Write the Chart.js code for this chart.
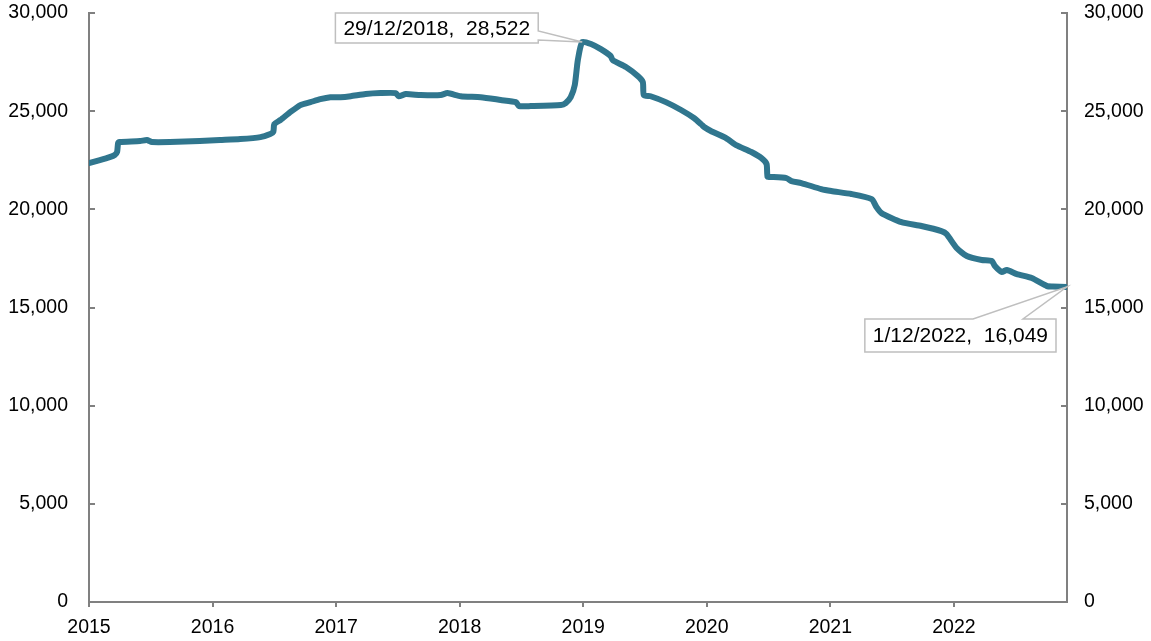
<!DOCTYPE html>
<html>
<head>
<meta charset="utf-8">
<script src="https://cdn.jsdelivr.net/npm/chart.js@4/dist/chart.umd.min.js"></script>
<style>
  html, body { margin: 0; padding: 0; background: #fff; }
  #wrap { width: 1151px; height: 641px; position: relative; }
</style>
</head>
<body>
<div id="wrap"><canvas id="chart"></canvas></div>
<script>
// dates and values
const dates = [
  '2015-01-01','2015-02-02','2015-03-03','2015-03-18','2015-03-25','2015-03-28','2015-04-02',
  '2015-06-01','2015-06-21','2015-07-06','2015-08-28','2015-11-24','2016-01-23','2016-03-23',
  '2016-05-22','2016-06-20','2016-06-29','2016-07-02','2016-07-20','2016-08-19','2016-09-17',
  '2016-10-17','2016-11-15','2016-12-15','2017-01-14','2017-02-13','2017-03-29','2017-05-12',
  '2017-06-26','2017-07-05','2017-07-26','2017-09-08','2017-11-06','2017-11-26','2018-01-04',
  '2018-03-04','2018-05-02','2018-06-16','2018-06-25','2018-07-30','2018-10-27','2018-11-10',
  '2018-11-25','2018-12-07','2018-12-16','2018-12-29','2019-01-24','2019-02-22','2019-03-23',
  '2019-03-29','2019-05-07','2019-06-11','2019-06-26','2019-06-29','2019-07-19','2019-09-02',
  '2019-10-17','2019-11-24','2019-12-15','2019-12-24','2020-01-13','2020-02-27','2020-03-28',
  '2020-05-12','2020-06-11','2020-06-26','2020-06-29','2020-07-10','2020-08-24','2020-09-08',
  '2020-10-07','2020-12-05','2021-01-04','2021-03-04','2021-05-03','2021-05-17','2021-06-01',
  '2021-07-30','2021-09-27','2021-11-25','2021-12-10','2022-01-09','2022-02-08','2022-03-24',
  '2022-04-23','2022-05-02','2022-05-22','2022-06-06','2022-07-06','2022-08-19','2022-10-03',
  '2022-10-20','2022-12-01'
];
const values = [
  22360,22510,22660,22770,22920,23380,23430,
  23480,23530,23430,23430,23480,23530,23580,
  23680,23840,23940,24340,24550,24960,25310,
  25460,25610,25710,25710,25760,25870,25920,
  25920,25760,25870,25820,25820,25920,25760,
  25710,25570,25460,25260,25260,25310,25410,
  25710,26330,27600,28522,28420,28160,27810,
  27600,27250,26790,26480,25820,25760,25460,
  25060,24650,24340,24190,23990,23630,23270,
  22920,22610,22310,21650,21650,21590,21440,
  21340,21030,20930,20780,20520,20120,19810,
  19350,19150,18890,18740,18030,17620,17420,
  17370,17110,16810,16910,16700,16500,16090,
  16070,16049
];
const yearTicks = [2015, 2016, 2017, 2018, 2019, 2020, 2021, 2022];
const yTicks = [0, 5000, 10000, 15000, 20000, 25000, 30000];
const callouts = [
  { date: '2018-12-29', label: '29/12/2018,  28,522' },
  { date: '2022-12-01', label: '1/12/2022,  16,049' }
];

function toYear(d) {
  const [y, m, dd] = d.split('-').map(Number);
  const s = Date.UTC(y, 0, 1), e = Date.UTC(y + 1, 0, 1);
  return y + (Date.UTC(y, m - 1, dd) - s) / (e - s);
}

const points = dates.map((d, i) => ({ x: toYear(d), y: values[i] }));
const FONT = '"Liberation Sans", Arial, sans-serif';
const AXIS = '#808080';

// short tick marks on the inside of both value axes
const innerTicks = {
  id: 'innerTicks',
  afterDraw(chart) {
    const { ctx, chartArea } = chart;
    ctx.save();
    ctx.strokeStyle = AXIS;
    ctx.lineWidth = 2;
    yTicks.forEach(v => {
      const py = Math.round(chart.scales.y.getPixelForValue(v));
      ctx.beginPath();
      ctx.moveTo(chartArea.left, py);
      ctx.lineTo(chartArea.left + 6, py);
      ctx.moveTo(chartArea.right - 6, py);
      ctx.lineTo(chartArea.right, py);
      ctx.stroke();
    });
    ctx.restore();
  }
};

// callout boxes for the peak and the last value
const calloutPlugin = {
  id: 'callouts',
  afterDatasetsDraw(chart) {
    const { ctx } = chart;
    const xs = chart.scales.x, ys = chart.scales.y;
    ctx.save();
    ctx.font = '21px ' + FONT;
    ctx.lineWidth = 1.5;
    ctx.strokeStyle = '#BFBFBF';
    ctx.fillStyle = '#fff';
    callouts.forEach((c, k) => {
      const i = dates.indexOf(c.date);
      const tx = xs.getPixelForValue(points[i].x);
      const ty = ys.getPixelForValue(points[i].y);
      const w = ctx.measureText(c.label).width + 16;
      let L, T, h;
      ctx.beginPath();
      if (k === 0) {
        h = 30;
        const R = tx - 44;
        L = R - w; T = ty - 29;
        ctx.moveTo(L, T);
        ctx.lineTo(R, T);
        ctx.lineTo(R, ty - 11);
        ctx.lineTo(tx, ty);
        ctx.lineTo(R, ty - 2);
        ctx.lineTo(R, T + h);
        ctx.lineTo(L, T + h);
      } else {
        h = 33;
        const R = tx - 11;
        L = R - w; T = ty + 32;
        ctx.moveTo(L, T);
        ctx.lineTo(tx - 94, T);
        ctx.lineTo(tx, ty);
        ctx.lineTo(tx - 44, T);
        ctx.lineTo(R, T);
        ctx.lineTo(R, T + h);
        ctx.lineTo(L, T + h);
      }
      ctx.closePath();
      ctx.fill();
      ctx.stroke();
      ctx.fillStyle = '#000';
      ctx.textBaseline = 'middle';
      ctx.fillText(c.label, L + 8, T + h / 2 + 1);
      ctx.fillStyle = '#fff';
    });
    ctx.restore();
  }
};

function fixY(width) {
  return s => {
    s.width = width;
    s.paddingTop = 0;
    s.paddingBottom = 0;
  };
}

new Chart(document.getElementById('chart'), {
  type: 'line',
  data: {
    datasets: [{
      data: points,
      borderColor: '#30768E',
      borderWidth: 6,
      borderCapStyle: 'round',
      borderJoinStyle: 'round',
      pointRadius: 0,
      tension: 0.2,
      yAxisID: 'y'
    }]
  },
  options: {
    responsive: true,
    maintainAspectRatio: false,
    animation: false,
    layout: { padding: { top: 13, left: 0, right: 0, bottom: 0 } },
    plugins: { legend: { display: false }, tooltip: { enabled: false } },
    scales: {
      x: {
        type: 'linear',
        min: 2015,
        max: points[points.length - 1].x,
        afterFit: s => { s.height = 39; s.paddingLeft = 0; s.paddingRight = 0; },
        afterBuildTicks: s => { s.ticks = yearTicks.map(v => ({ value: v })); },
        ticks: {
          font: { family: FONT, size: 19.5 },
          color: '#000',
          padding: 9,
          maxRotation: 0,
          autoSkip: false,
          callback: v => String(v)
        },
        grid: { drawOnChartArea: false, drawTicks: true, tickLength: 5, color: AXIS, lineWidth: 2 },
        border: { color: AXIS, width: 2 }
      },
      y: {
        position: 'left',
        min: 0,
        max: 30000,
        afterFit: fixY(89),
        afterBuildTicks: s => { s.ticks = yTicks.map(v => ({ value: v })); },
        ticks: {
          font: { family: FONT, size: 19.5 },
          color: '#000',
          padding: 21,
          callback: v => v.toLocaleString('en-US')
        },
        grid: { drawOnChartArea: false, drawTicks: false },
        border: { color: AXIS, width: 2 }
      },
      y2: {
        position: 'right',
        min: 0,
        max: 30000,
        afterFit: fixY(84),
        afterBuildTicks: s => { s.ticks = yTicks.map(v => ({ value: v })); },
        ticks: {
          font: { family: FONT, size: 19.5 },
          color: '#000',
          padding: 17,
          callback: v => v.toLocaleString('en-US')
        },
        grid: { drawOnChartArea: false, drawTicks: false },
        border: { color: AXIS, width: 2 }
      }
    }
  },
  plugins: [innerTicks, calloutPlugin]
});
</script>
</body>
</html>
